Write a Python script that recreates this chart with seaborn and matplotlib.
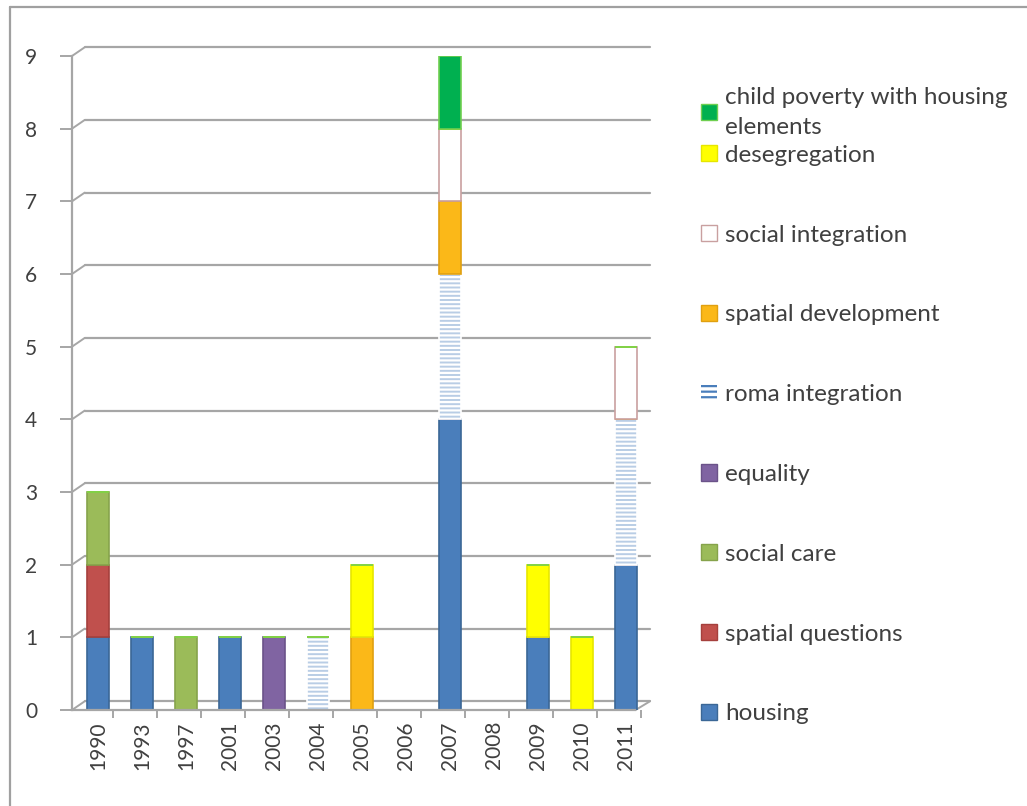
import numpy as np
import pandas as pd
import matplotlib
matplotlib.use("Agg")
import matplotlib.pyplot as plt
import seaborn as sns
from matplotlib.lines import Line2D
from matplotlib.patches import Patch
import matplotlib.transforms as mtransforms

years = ["1990", "1993", "1997", "2001", "2003", "2004", "2005", "2006",
         "2007", "2008", "2009", "2010", "2011"]
housing             = [1, 1, 0, 1, 0, 0, 0, 0, 4, 0, 1, 0, 2]
spatial_questions   = [1, 0, 0, 0, 0, 0, 0, 0, 0, 0, 0, 0, 0]
social_care         = [1, 0, 1, 0, 0, 0, 0, 0, 0, 0, 0, 0, 0]
equality            = [0, 0, 0, 0, 1, 0, 0, 0, 0, 0, 0, 0, 0]
roma_integration    = [0, 0, 0, 0, 0, 1, 0, 0, 2, 0, 0, 0, 2]
spatial_development = [0, 0, 0, 0, 0, 0, 1, 0, 1, 0, 0, 0, 0]
social_integration  = [0, 0, 0, 0, 0, 0, 0, 0, 1, 0, 0, 0, 1]
desegregation       = [0, 0, 0, 0, 0, 0, 1, 0, 0, 0, 1, 1, 0]
child_poverty       = [0, 0, 0, 0, 0, 0, 0, 0, 1, 0, 0, 0, 0]

series_names = ["housing", "spatial questions", "social care", "equality",
                "roma integration", "spatial development", "social integration",
                "desegregation", "child poverty with housing\nelements"]
series_values = [housing, spatial_questions, social_care, equality, roma_integration,
                 spatial_development, social_integration, desegregation, child_poverty]
y_ticks = list(range(0, 10))

styles = [
    dict(color="#4a7ebb", edgecolor="#3b6796", hatch=None),
    dict(color="#c0504d", edgecolor="#a5403d", hatch=None),
    dict(color="#9bbb59", edgecolor="#86a34b", hatch=None),
    dict(color="#8064a2", edgecolor="#6b5389", hatch=None),
    dict(color="#b9cde5", edgecolor="#ffffff", hatch="----"),
    dict(color="#fbb818", edgecolor="#e0a010", hatch=None),
    dict(color="#ffffff", edgecolor="#c9a0a0", hatch=None),
    dict(color="#ffff00", edgecolor="#e6e600", hatch=None),
    dict(color="#00b050", edgecolor="#6fcf50", hatch=None),
]

sns.set_theme(style="white")
plt.rcParams["font.family"] = ["Lato", "DejaVu Sans"]
plt.rcParams["hatch.linewidth"] = 1.6

fig = plt.figure(figsize=(10.27, 8.06), dpi=100)
ax = fig.add_axes([72 / 1027, 1 - 710 / 806, (650 - 72) / 1027, (710 - 56) / 806])

grid_c = "#a6a6a6"
depth_x = 0.022   # pseudo-3D depth offset (axes fraction)
depth_y = 0.12    # pseudo-3D depth offset (data units)
blend = mtransforms.blended_transform_factory(ax.transAxes, ax.transData)
for v in y_ticks:
    ax.add_line(Line2D([depth_x, 1.0], [v + depth_y, v + depth_y], transform=blend,
                       color=grid_c, lw=1.6, zorder=0, clip_on=False))
    ax.add_line(Line2D([0, depth_x], [v, v + depth_y], transform=blend,
                       color=grid_c, lw=1.4, zorder=0, clip_on=False))
# floor right edge
ax.add_line(Line2D([0.975, 1.0], [0, depth_y], transform=blend,
                   color=grid_c, lw=1.4, zorder=0, clip_on=False))

bottom = np.zeros(len(years))
handles = []
for name, vals, st in zip(series_names, series_values, styles):
    df = pd.DataFrame({"year": years, "value": vals})
    sns.barplot(data=df, x="year", y="value", order=years, ax=ax,
                bottom=bottom.copy(), width=0.5, color=st["color"],
                edgecolor=st["edgecolor"], hatch=st["hatch"], linewidth=1.2,
                saturation=1, errorbar=None, zorder=2)
    bottom += np.array(vals, dtype=float)
    if st["hatch"] is None:
        handles.append(Patch(facecolor=st["color"], edgecolor=st["edgecolor"],
                             lw=1.0, label=name))
    else:
        handles.append(Patch(facecolor="white", edgecolor="#4a7ebb", hatch="---",
                             lw=0, label=name))

ax.set_xlim(-0.59, 12.55)
ax.set_ylim(0, 9)
ax.set_yticks(y_ticks)
ax.set_xticks(np.arange(len(years)))
ax.set_xticks(np.arange(len(years)) + 0.35, minor=True)
ax.set_xlabel("")
ax.set_ylabel("")
for s in ["top", "right"]:
    ax.spines[s].set_visible(False)
ax.spines["left"].set_color(grid_c)
ax.spines["left"].set_linewidth(1.6)
ax.spines["bottom"].set_color(grid_c)
ax.spines["bottom"].set_linewidth(1.6)
ax.spines["bottom"].set_bounds(-0.59, 12.2)
ax.tick_params(axis="y", length=9, width=1.4, color=grid_c, left=True,
               labelsize=15, labelcolor="#404040", pad=16)
ax.tick_params(axis="x", which="major", length=0, labelsize=15, labelcolor="#404040",
               labelrotation=90, pad=8)
ax.tick_params(axis="x", which="minor", length=6, width=1.4, color=grid_c,
               bottom=True, direction="out")

# legend: single-line entries
leg_order = [7, 6, 5, 4, 3, 2, 1, 0]
leg = fig.legend(handles=[handles[i] for i in leg_order], loc="upper left",
                 bbox_to_anchor=(691 / 1027, 1 - 135 / 806), frameon=False,
                 fontsize=17.5, labelspacing=2.42, handlelength=0.65, handleheight=0.65,
                 handletextpad=0.35, labelcolor="#404040", borderaxespad=0)
leg2 = fig.legend(handles=[handles[8]], loc="upper left",
                  bbox_to_anchor=(691 / 1027, 1 - 77 / 806), frameon=False,
                  fontsize=17.5, handlelength=0.65, handleheight=0.65,
                  handletextpad=0.35, labelcolor="#404040", borderaxespad=0)
for t in leg2.get_texts():
    t.set_linespacing(1.55)

# outer frame (top and left edges)
fig.add_artist(Line2D([10 / 1027, 10 / 1027], [0, 1 - 7 / 806], transform=fig.transFigure,
                      color="#a0a0a0", lw=1.6))
fig.add_artist(Line2D([10 / 1027, 1], [1 - 7 / 806, 1 - 7 / 806], transform=fig.transFigure,
                      color="#a0a0a0", lw=1.6))

fig.savefig("out.png", dpi=100, facecolor="white")
